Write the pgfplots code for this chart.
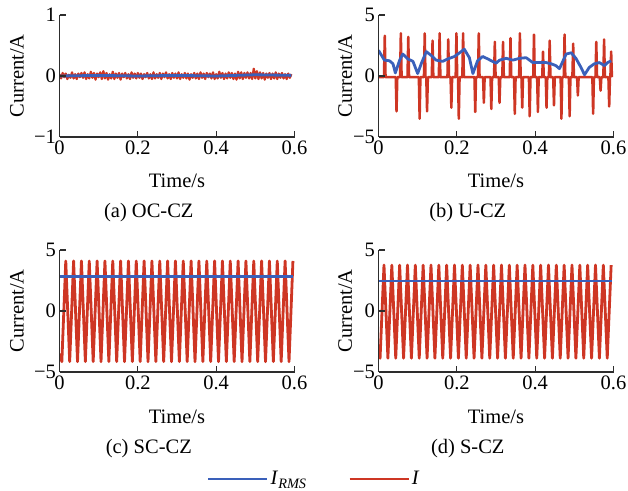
\documentclass[border=0pt]{standalone}
\usepackage{fontspec}
\setmainfont{Liberation Serif}
\usepackage{pgfplots}
\pgfplotsset{compat=1.18}

\definecolor{cred}{RGB}{206,54,36}
\definecolor{cblue}{RGB}{58,96,186}
\definecolor{axgray}{RGB}{45,45,45}
\newcommand{\fs}{\fontsize{20.5}{24}\selectfont}

\pgfplotsset{
  cz/.style={
    scale only axis, width=235pt, height=122pt,
    axis x line*=bottom, axis y line*=left,
    axis line style={axgray, line width=1.1pt},
    tick style={axgray, line width=1.1pt},
    tick align=inside, major tick length=6pt,
    xmin=0, xmax=0.6,
    xtick={0,0.2,0.4,0.6}, xticklabels={0,0.2,0.4,0.6},
    tick label style={font=\fs},
    label style={font=\fs},
    xlabel={Time/s}, ylabel={Current/A},
    axis on top,
  },
  cz5/.style={ymin=-5, ymax=5, ytick={-5,0,5}, yticklabels={−5,0,5}},
  leftcol/.style={ylabel style={at={(axis description cs:-0.181,0.5)}, anchor=center}},
  rightcol/.style={ylabel style={at={(axis description cs:-0.142,0.5)}, anchor=center}},
  toprow/.style={xlabel style={at={(axis description cs:0.5,-0.361)}, anchor=center},
    title style={font=\fs, at={(axis description cs:0.38,-0.672)}, anchor=center, yshift=0pt}},
  botrow/.style={xlabel style={at={(axis description cs:0.5,-0.369)}, anchor=center},
    title style={font=\fs, at={(axis description cs:0.38,-0.68)}, anchor=center, yshift=0pt}},
  sI/.style={cred, line width=2.5pt, line join=round},
  sRMS/.style={cblue, line width=2.8pt, line join=round},
}

\begin{document}
\begin{tikzpicture}
\useasboundingbox (0,0) rectangle (628pt,490pt);

% (a) OC-CZ
\begin{axis}[cz, leftcol, toprow, at={(59.5pt,353pt)}, anchor=south west,
    ymin=-1, ymax=1, ytick={-1,0,1}, yticklabels={−1,0,1},
    title={(a) OC-CZ}]
\addplot[sI, line width=2.2pt] coordinates {
 (0.000,0.03) (0.004,-0.04) (0.008,0.05) (0.012,-0.02) (0.016,0.04) (0.020,-0.05) (0.024,0.02) (0.028,-0.03) (0.032,0.06) (0.036,-0.04)
 (0.040,0.03) (0.044,-0.05) (0.048,0.04) (0.052,-0.02) (0.056,0.05) (0.060,-0.03) (0.064,0.06) (0.068,-0.05) (0.072,0.03) (0.076,-0.04)
 (0.080,0.07) (0.084,-0.03) (0.088,0.05) (0.092,-0.06) (0.096,0.04) (0.100,-0.02) (0.104,0.06) (0.108,-0.05) (0.112,0.08) (0.116,-0.04)
 (0.120,0.05) (0.124,-0.06) (0.128,0.03) (0.132,-0.04) (0.136,0.07) (0.140,-0.05) (0.144,0.04) (0.148,-0.03) (0.152,0.05) (0.156,-0.06)
 (0.160,0.04) (0.164,-0.02) (0.168,0.05) (0.172,-0.04) (0.176,0.03) (0.180,-0.05) (0.184,0.06) (0.188,-0.03) (0.192,0.04) (0.196,-0.04)
 (0.200,0.05) (0.204,-0.03) (0.208,0.04) (0.212,-0.05) (0.216,0.03) (0.220,-0.02) (0.224,0.05) (0.228,-0.04) (0.232,0.03) (0.236,-0.05)
 (0.240,0.06) (0.244,-0.04) (0.248,0.03) (0.252,-0.03) (0.256,0.05) (0.260,-0.05) (0.264,0.04) (0.268,-0.02) (0.272,0.06) (0.276,-0.04)
 (0.280,0.03) (0.284,-0.05) (0.288,0.05) (0.292,-0.03) (0.296,0.04) (0.300,-0.04) (0.304,0.06) (0.308,-0.05) (0.312,0.03) (0.316,-0.03)
 (0.320,0.05) (0.324,-0.04) (0.328,0.04) (0.332,-0.06) (0.336,0.03) (0.340,-0.03) (0.344,0.05) (0.348,-0.04) (0.352,0.04) (0.356,-0.05)
 (0.360,0.06) (0.364,-0.03) (0.368,0.04) (0.372,-0.05) (0.376,0.05) (0.380,-0.02) (0.384,0.04) (0.388,-0.04) (0.392,0.06) (0.396,-0.05)
 (0.400,0.03) (0.404,-0.04) (0.408,0.07) (0.412,-0.03) (0.416,0.05) (0.420,-0.05) (0.424,0.04) (0.428,-0.04) (0.432,0.06) (0.436,-0.03)
 (0.440,0.05) (0.444,-0.05) (0.448,0.04) (0.452,-0.06) (0.456,0.07) (0.460,-0.04) (0.464,0.06) (0.468,-0.05) (0.472,0.05) (0.476,-0.03)
 (0.480,0.06) (0.484,-0.04) (0.488,0.05) (0.492,-0.05) (0.496,0.12) (0.500,-0.04) (0.504,0.08) (0.508,-0.05) (0.512,0.06) (0.516,-0.04)
 (0.520,0.05) (0.524,-0.06) (0.528,0.04) (0.532,-0.03) (0.536,0.05) (0.540,-0.05) (0.544,0.04) (0.548,-0.04) (0.552,0.06) (0.556,-0.05)
 (0.560,0.04) (0.564,-0.03) (0.568,0.05) (0.572,-0.04) (0.576,0.03) (0.580,-0.05) (0.584,0.04) (0.588,-0.03) (0.592,0.03)
};
\addplot[sRMS] coordinates {
 (0,0.00) (0.1,0.01) (0.2,0.00) (0.3,0.01) (0.4,0.00) (0.5,0.02) (0.592,0.01)
};
\end{axis}

% (b) U-CZ
\begin{axis}[cz, cz5, rightcol, toprow, at={(378.5pt,353pt)}, anchor=south west,
    title={(b) U-CZ}]
\addplot[sI] coordinates {
 (0,-0.1) (0.014,-0.1) (0.016,3.3) (0.018,-0.1)
 (0.044,-0.1) (0.046,-2.9) (0.048,-0.1)
 (0.055,-0.1) (0.057,3.5) (0.059,-0.1)
 (0.074,-0.1) (0.076,3.2) (0.078,-0.1)
 (0.103,-0.1) (0.105,-3.5) (0.107,-0.1)
 (0.116,-0.1) (0.118,3.5) (0.120,-0.1)
 (0.122,-0.1) (0.124,-2.9) (0.126,-0.1)
 (0.136,-0.1) (0.138,2.9) (0.140,-0.1)
 (0.154,-0.1) (0.156,3.5) (0.158,-0.1)
 (0.176,-0.1) (0.178,3.0) (0.180,-0.1)
 (0.184,-0.1) (0.186,-2.6) (0.188,-0.1)
 (0.197,-0.1) (0.199,3.5) (0.201,-0.1)
 (0.203,-0.1) (0.205,-3.5) (0.207,-0.1)
 (0.214,-0.1) (0.216,3.5) (0.218,-0.1)
 (0.245,-0.1) (0.247,-2.95) (0.249,-0.1)
 (0.254,-0.1) (0.256,3.5) (0.258,-0.1)
 (0.267,-0.1) (0.269,-2.2) (0.271,-0.1)
 (0.286,-0.1) (0.288,-2.7) (0.290,-0.1)
 (0.295,-0.1) (0.297,2.8) (0.299,-0.1)
 (0.307,-0.1) (0.309,-2.2) (0.311,-0.1)
 (0.316,-0.1) (0.318,2.8) (0.320,-0.1)
 (0.335,-0.1) (0.337,3.1) (0.339,-0.1)
 (0.346,-0.1) (0.348,-3.1) (0.350,-0.1)
 (0.359,-0.1) (0.361,3.5) (0.363,-0.1)
 (0.365,-0.1) (0.367,-2.6) (0.369,-0.1)
 (0.384,-0.1) (0.386,-3.3) (0.388,-0.1)
 (0.395,-0.1) (0.397,3.4) (0.399,-0.1)
 (0.405,-0.1) (0.407,-2.95) (0.409,-0.1)
 (0.418,-0.1) (0.420,2.0) (0.422,-0.1)
 (0.427,-0.1) (0.429,-2.6) (0.431,-0.1)
 (0.435,-0.1) (0.437,2.9) (0.439,-0.1)
 (0.446,-0.1) (0.448,-2.4) (0.450,-0.1)
 (0.465,-0.1) (0.467,-3.5) (0.469,-0.1)
 (0.473,-0.1) (0.475,3.4) (0.477,-0.1)
 (0.486,-0.1) (0.488,-3.3) (0.490,-0.1)
 (0.495,-0.1) (0.497,2.65) (0.499,-0.1)
 (0.507,-0.1) (0.509,-1.6) (0.511,-0.1)
 (0.546,-0.1) (0.548,-3.1) (0.550,-0.1)
 (0.554,-0.1) (0.556,2.8) (0.558,-0.1)
 (0.565,-0.1) (0.567,-1.2) (0.569,-0.1)
 (0.574,-0.1) (0.576,3.0) (0.578,-0.1)
 (0.587,-0.1) (0.589,-2.5) (0.591,-0.1)
 (0.592,-0.1) (0.594,2.0) (0.596,-0.1)
};
\addplot[sRMS] coordinates {
 (0,2.1) (0.015,1.3) (0.028,1.25) (0.037,1.0) (0.043,0.25) (0.054,1.3)
 (0.062,1.8) (0.075,1.4) (0.088,1.2) (0.100,0.2) (0.109,1.0) (0.122,2.0)
 (0.134,1.7) (0.147,1.3) (0.164,1.2) (0.177,1.4) (0.194,1.6) (0.207,1.9)
 (0.219,2.2) (0.232,1.5) (0.241,0.2) (0.253,1.25) (0.266,1.6) (0.279,1.4)
 (0.300,1.05) (0.309,1.3) (0.326,1.45) (0.343,1.3) (0.360,1.45) (0.377,1.5)
 (0.394,1.1) (0.411,1.1) (0.428,1.1) (0.441,1.0) (0.453,0.85) (0.462,0.6)
 (0.479,1.8) (0.492,1.9) (0.504,1.45) (0.517,0.7) (0.526,0.1) (0.538,0.7)
 (0.551,1.0) (0.564,1.1) (0.577,0.85) (0.585,1.1) (0.594,1.25)
};
\end{axis}

% (c) SC-CZ
\begin{axis}[cz, cz5, leftcol, botrow, at={(59.5pt,118pt)}, anchor=south west,
    title={(c) SC-CZ}]
\addplot[sI, line width=2.8pt] coordinates {
 (0,-3.5) (0.006,-4.15) (0.016,4.1) (0.026,-4.15) (0.036,4.1) (0.046,-4.15)
 (0.056,4.1) (0.066,-4.15) (0.076,4.1) (0.086,-4.15) (0.096,4.1) (0.106,-4.15)
 (0.116,4.1) (0.126,-4.15) (0.136,4.1) (0.146,-4.15) (0.156,4.1) (0.166,-4.15)
 (0.176,4.1) (0.186,-4.15) (0.196,4.1) (0.206,-4.15) (0.216,4.1) (0.226,-4.15)
 (0.236,4.1) (0.246,-4.15) (0.256,4.1) (0.266,-4.15) (0.276,4.1) (0.286,-4.15)
 (0.296,4.1) (0.306,-4.15) (0.316,4.1) (0.326,-4.15) (0.336,4.1) (0.346,-4.15)
 (0.356,4.1) (0.366,-4.15) (0.376,4.1) (0.386,-4.15) (0.396,4.1) (0.406,-4.15)
 (0.416,4.1) (0.426,-4.15) (0.436,4.1) (0.446,-4.15) (0.456,4.1) (0.466,-4.15)
 (0.476,4.1) (0.486,-4.15) (0.496,4.1) (0.506,-4.15) (0.516,4.1) (0.526,-4.15)
 (0.536,4.1) (0.546,-4.15) (0.556,4.1) (0.566,-4.15) (0.576,4.1) (0.586,-4.15)
 (0.596,4.1)
};
\addplot[sRMS] coordinates {(0,2.85) (0.596,2.85)};
\end{axis}

% (d) S-CZ
\begin{axis}[cz, cz5, rightcol, botrow, at={(378.5pt,118pt)}, anchor=south west,
    title={(d) S-CZ},
    legend style={draw=none, fill=none, font=\fs, legend columns=2,
      at={(-0.273,-0.877)}, anchor=center,
      /tikz/every even column/.append style={column sep=40pt}},
    legend image code/.code={\draw[#1] (0pt,0pt) -- (59pt,0pt);}]
\addplot[sI, line width=2.8pt, forget plot] coordinates {
 (0,-3.3) (0.004,-3.87) (0.014,3.76) (0.024,-3.87) (0.034,3.76) (0.044,-3.87)
 (0.054,3.76) (0.064,-3.87) (0.074,3.76) (0.084,-3.87) (0.094,3.76) (0.104,-3.87)
 (0.114,3.76) (0.124,-3.87) (0.134,3.76) (0.144,-3.87) (0.154,3.76) (0.164,-3.87)
 (0.174,3.76) (0.184,-3.87) (0.194,3.76) (0.204,-3.87) (0.214,3.76) (0.224,-3.87)
 (0.234,3.76) (0.244,-3.87) (0.254,3.76) (0.264,-3.87) (0.274,3.76) (0.284,-3.87)
 (0.294,3.76) (0.304,-3.87) (0.314,3.76) (0.324,-3.87) (0.334,3.76) (0.344,-3.87)
 (0.354,3.76) (0.364,-3.87) (0.374,3.76) (0.384,-3.87) (0.394,3.76) (0.404,-3.87)
 (0.414,3.76) (0.424,-3.87) (0.434,3.76) (0.444,-3.87) (0.454,3.76) (0.464,-3.87)
 (0.474,3.76) (0.484,-3.87) (0.494,3.76) (0.504,-3.87) (0.514,3.76) (0.524,-3.87)
 (0.534,3.76) (0.544,-3.87) (0.554,3.76) (0.564,-3.87) (0.574,3.76) (0.584,-3.87)
 (0.594,3.76)
};
\addplot[sRMS, forget plot] coordinates {(0,2.46) (0.597,2.46)};
\addlegendimage{sRMS, line width=2.4pt}
\addlegendentry{\textit{I}\textsubscript{\textit{RMS}}}
\addlegendimage{sI, line width=2.2pt}
\addlegendentry{\textit{I}}
\end{axis}
\end{tikzpicture}
\end{document}
